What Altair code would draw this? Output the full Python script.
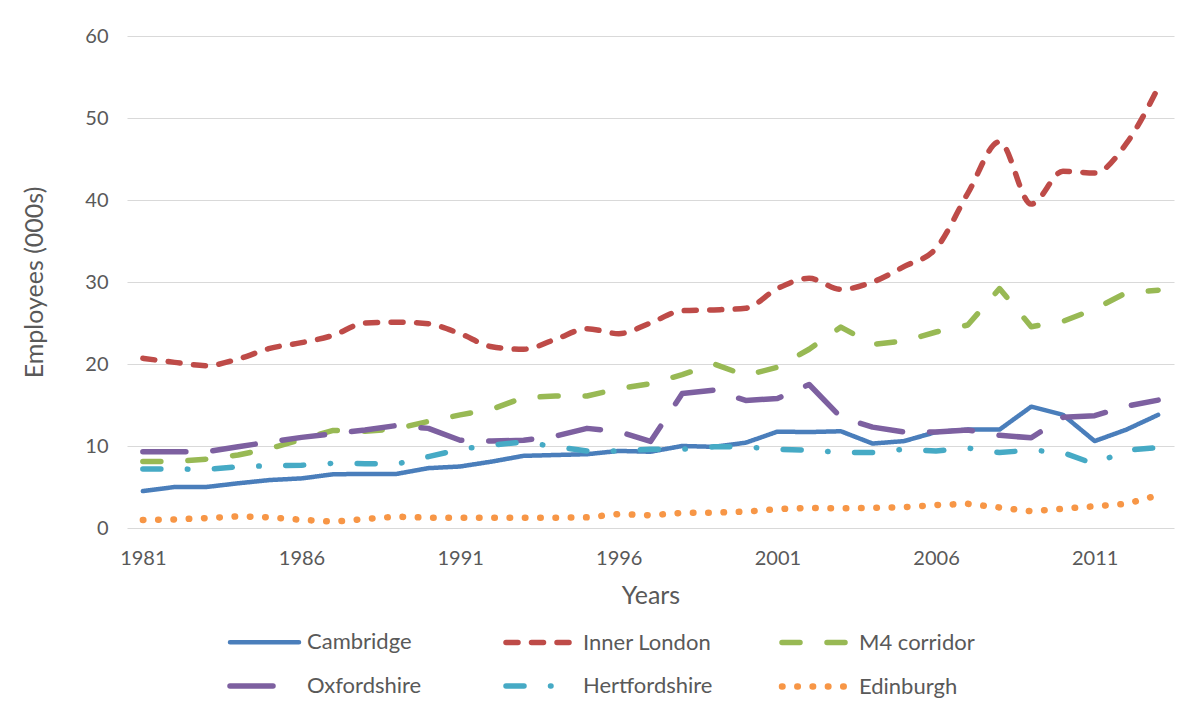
import altair as alt
import pandas as pd

years = list(range(1981, 2014))
series_names = ["Cambridge", "Inner London", "M4 corridor", "Oxfordshire", "Hertfordshire", "Edinburgh"]

cambridge = [4.5, 5.0, 5.0, 5.45, 5.85, 6.05, 6.55, 6.6, 6.6, 7.3,
             7.5, 8.1, 8.8, 8.9, 9.0, 9.4, 9.3, 10.0, 9.9, 10.4,
             11.75, 11.7, 11.8, 10.3, 10.6, 11.7, 12.0, 12.0, 14.8, 13.8,
             10.6, 12.0, 13.8]
inner_london = [20.7, 20.2, 19.8, 20.6, 21.9, 22.6, 23.5, 25.0, 25.1, 24.9,
                23.7, 22.1, 21.8, 23.0, 24.3, 23.7, 25.0, 26.5, 26.6, 26.8,
                29.2, 30.45, 29.1, 30.0, 31.9, 34.1, 40.8, 47.1, 39.5, 43.5,
                43.3, 46.9, 53.7]
m4_corridor = [8.1, 8.1, 8.4, 8.9, 9.7, 10.8, 11.9, 11.8, 12.1, 13.0,
               13.8, 14.5, 15.9, 16.1, 16.1, 17.0, 17.6, 18.7, 20.0, 18.6,
               19.6, 21.8, 24.5, 22.4, 22.8, 23.9, 24.75, 29.2, 24.55, 25.2,
               26.7, 28.7, 29.0]
oxfordshire = [9.3, 9.3, 9.3, 9.9, 10.5, 11.05, 11.5, 11.95, 12.5, 12.15,
               10.7, 10.6, 10.7, 11.2, 12.15, 11.75, 10.55, 16.4, 16.8, 15.55,
               15.8, 17.5, 13.5, 12.3, 11.7, 11.7, 11.95, 11.3, 11.0, 13.5,
               13.7, 14.85, 15.6]
hertfordshire = [7.2, 7.2, 7.15, 7.45, 7.6, 7.65, 7.9, 7.85, 7.8, 8.7,
                 9.6, 10.1, 10.5, 9.9, 9.4, 9.4, 9.6, 9.6, 9.9, 9.9,
                 9.6, 9.5, 9.2, 9.2, 9.6, 9.4, 9.75, 9.2, 9.5, 9.2,
                 7.8, 9.5, 9.8]
edinburgh = [0.98, 1.05, 1.2, 1.42, 1.3, 1.0, 0.77, 1.1, 1.38, 1.26,
             1.26, 1.26, 1.26, 1.26, 1.3, 1.7, 1.55, 1.85, 1.87, 2.0,
             2.3, 2.45, 2.4, 2.45, 2.55, 2.8, 2.95, 2.5, 2.05, 2.35,
             2.65, 2.95, 4.0]

x_tick_values = [1981, 1986, 1991, 1996, 2001, 2006, 2011]
y_tick_values = [0, 10, 20, 30, 40, 50, 60]

colors = ["#4A7EBB", "#BE4B48", "#98B954", "#7D60A0", "#46AAC5", "#F79646"]
dashes = [[1, 0], [12, 13.5], [18, 27], [43, 27], [18, 26.5, 0.5, 26.5], [0.5, 14.8]]
widths = [4.5, 5.5, 5.5, 5.5, 5.5, 6.5]

all_values = [cambridge, inner_london, m4_corridor, oxfordshire, hertfordshire, edinburgh]
rows = []
for name, vals in zip(series_names, all_values):
    for yr, v in zip(years, vals):
        rows.append({"year": yr, "value": v, "series": name})
df = pd.DataFrame(rows)

TEXT = "#595959"
FONT = "Lato"

legend = alt.Legend(
    title=None, orient="none", legendX=119, legendY=587,
    direction="horizontal", columns=3, symbolType="M-2.3,0H2.3",
    symbolSize=900, labelFontSize=22, labelColor=TEXT, labelFont=FONT,
    labelOffset=24, columnPadding=56, rowPadding=13, gridAlign="all",
)

base = alt.Chart(df).encode(
    x=alt.X("year:Q",
            scale=alt.Scale(domain=[1980.5, 2013.5], nice=False, zero=False),
            axis=alt.Axis(values=x_tick_values, format="d", grid=False, ticks=False,
                          domain=False, labelPadding=20, labelFontSize=20,
                          labelColor=TEXT, title="Years", titleFontSize=25,
                          titleColor=TEXT, titleFontWeight="normal", titlePadding=15)),
    y=alt.Y("value:Q",
            scale=alt.Scale(domain=[0, 60], nice=False),
            axis=alt.Axis(values=y_tick_values, grid=True, gridColor="#D9D9D9",
                          gridWidth=1.2, domain=False, ticks=False, labelPadding=19,
                          labelFontSize=20, labelColor=TEXT, title="Employees (000s)",
                          titleFontSize=25, titleColor=TEXT, titleFontWeight="normal",
                          titlePadding=37)),
    color=alt.Color("series:N", scale=alt.Scale(domain=series_names, range=colors), legend=legend),
    strokeDash=alt.StrokeDash("series:N", scale=alt.Scale(domain=series_names, range=dashes), legend=legend),
    strokeWidth=alt.StrokeWidth("series:N", scale=alt.Scale(type="ordinal", domain=series_names, range=widths), legend=legend),
)

layers = []
for name in series_names:
    interp = "monotone" if name == "Inner London" else "linear"
    layers.append(
        base.transform_filter(alt.datum.series == name)
        .mark_line(interpolate=interp, strokeCap="round", strokeJoin="round")
    )

chart = alt.layer(*layers).properties(
    width=1047, height=492,
    padding={"left": 119, "top": 28, "right": 20, "bottom": 170},
    autosize=alt.AutoSizeParams(type="none"),
    background="white",
).configure(font=FONT).configure_view(stroke=None)

legend_patch = [
    {"op": "add", "path": "/legends/0/encode",
     "value": {"symbols": {"update": {"strokeCap": {"value": "round"}}}}}
]

chart.save("out.html", embed_options={"renderer": "svg", "actions": False, "patch": legend_patch})
